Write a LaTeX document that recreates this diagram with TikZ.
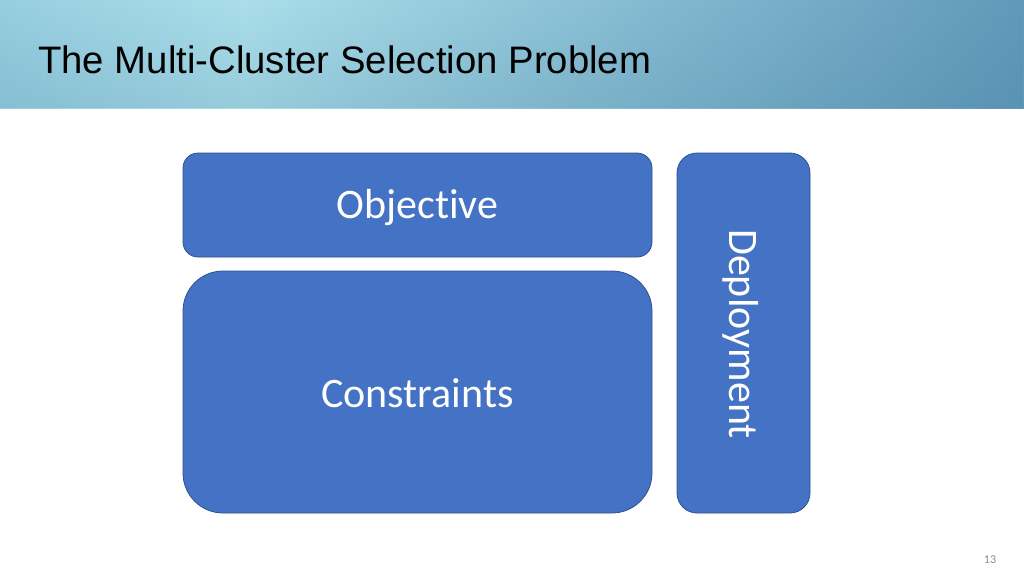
\documentclass[tikz,border=0pt]{standalone}
\usepackage{fontspec}
\setmainfont{Carlito}[Ligatures=NoCommon]
\newfontfamily\titlefont{Liberation Sans}
\usetikzlibrary{fadings}
\definecolor{boxfill}{HTML}{4472C4}
\definecolor{boxline}{HTML}{2F528F}
\definecolor{hdrlight}{HTML}{ABDEEA}
\definecolor{hdrmid}{HTML}{97CEE0}
\definecolor{hdrdark}{HTML}{6199BA}
\definecolor{hdrshadow}{HTML}{2F6E8E}
\definecolor{pagegray}{HTML}{8C8C8C}
\pgfdeclarehorizontalshading{hdrshade}{100bp}{color(0bp)=(hdrmid); color(25bp)=(hdrmid); color(37bp)=(hdrlight); color(75bp)=(hdrdark); color(100bp)=(hdrdark)}
\begin{document}
\begin{tikzpicture}[x=1pt,y=-1pt,
  blockbox/.style={draw=boxline, line width=0.8pt, fill=boxfill, text=white, inner sep=0pt, font=\fontsize{42}{48}\selectfont},
]
\useasboundingbox (0,0) rectangle (1024,576);
% header band
\shade[shading=hdrshade] (0,0) rectangle (1024,108);
\fill[hdrshadow, opacity=0.16, path fading=north] (0,0) rectangle (1024,108);
\node[anchor=base west, inner sep=0pt, font=\titlefont\fontsize{38.3}{42}\selectfont] (title) at (38,73) {The Multi-Cluster Selection Problem};
% boxes
\node[blockbox, rounded corners=15pt, minimum width=469pt, minimum height=104pt] (objective) at (417.5,205) {};
\node[text=white, inner sep=0pt, font=\fontsize{42}{48}\selectfont] (objtext) at (417.5,208) {Objective};
\node[blockbox, rounded corners=40pt, minimum width=469pt, minimum height=242pt] (constraints) at (417.5,392) {};
\node[text=white, inner sep=0pt, font=\fontsize{42}{48}\selectfont] (context) at (417.5,393.5) {Constraints};
\node[blockbox, rounded corners=20pt, minimum width=133pt, minimum height=360pt] (deploybox) at (743.5,333) {};
\node[text=white, inner sep=0pt, rotate=-90, font=\fontsize{42}{48}\selectfont] (deployment) at (741,334) {Deployment};
% page number
\node[text=pagegray, inner sep=0pt, font=\fontsize{12}{14}\selectfont] (pagenum) at (990,560) {13};
\end{tikzpicture}
\end{document}
